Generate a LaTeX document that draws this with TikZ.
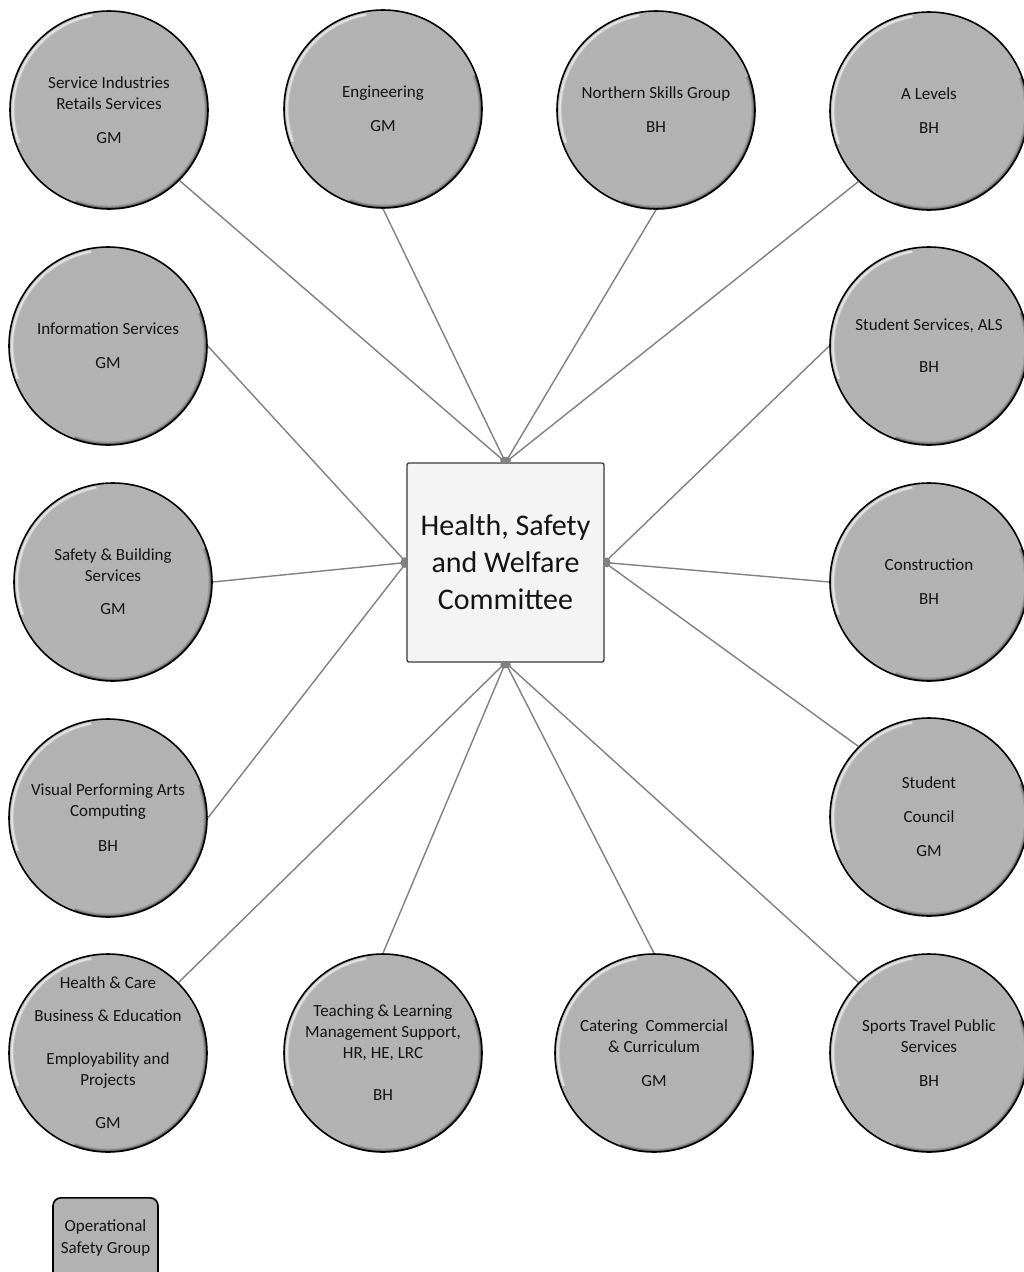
\documentclass[tikz,border=0pt]{standalone}
\usepackage{fontspec}
\setmainfont{Carlito}
\usetikzlibrary{arrows.meta}
\definecolor{unitgray}{HTML}{B2B2B2}
\definecolor{boxfill}{HTML}{F4F4F4}
\definecolor{boxline}{HTML}{3A3A3A}
\definecolor{connc}{HTML}{808080}
\definecolor{txt}{HTML}{141414}
\tikzset{
  unit/.style={circle, minimum size=198pt, inner sep=0pt, fill=unitgray, draw=black,
    line width=1.6pt,
    path picture={
      \foreach \o/\w in {.18/4pt,.3/2.5pt,.45/1.2pt}{
        \draw[white, opacity=\o, line width=\w]
          ([shift={(100:96pt)}]path picture bounding box.center) arc[start angle=100, end angle=200, radius=96pt];}
      \foreach \o/\w in {.12/7pt,.2/4.5pt,.35/2.5pt}{
        \draw[black, opacity=\o, line width=\w]
          ([shift={(-110:99pt)}]path picture bounding box.center) arc[start angle=-110, end angle=20, radius=99pt];}
    }},
  utext/.style={inner sep=0pt, align=center, text=txt, font=\fontsize{17}{21}\selectfont},
  hub/.style={rectangle, rounded corners=2pt, minimum width=197pt, minimum height=199pt,
    inner sep=0pt, fill=boxfill, draw=boxline, line width=1.3pt, align=center, text=txt,
    font=\fontsize{30}{37}\selectfont},
  legendbox/.style={rectangle, rounded corners=8pt, minimum width=105pt, minimum height=86pt,
    inner sep=0pt, fill=unitgray, draw=black, line width=1.6pt},
  conn/.style={draw=connc, line width=1.4pt, arrows={Circle[length=6pt]-}},
}
\begin{document}
\begin{tikzpicture}[x=1pt,y=1pt]
\useasboundingbox[fill=white] (0,0) rectangle (1023,-1272);

\node[hub] (hswc) at (505.5,-562.5) {Health, Safety\\and Welfare\\Committee};

% row 1
\node[unit] (sis) at (109,-110) {};
\node[utext] (sist) at (sis) {Service Industries\\Retails Services\\[13pt]GM};
\node[unit] (eng) at (383,-109) {};
\node[utext] (engt) at (eng) {Engineering\\[13pt]GM};
\node[unit] (nsg) at (656,-110) {};
\node[utext] (nsgt) at (nsg) {Northern Skills Group\\[13pt]BH};
\node[unit] (alv) at (929,-111) {};
\node[utext] (alvt) at (alv) {A Levels\\[13pt]BH};
% row 2
\node[unit] (inf) at (108,-346) {};
\node[utext] (inft) at (inf) {Information Services\\[13pt]GM};
\node[unit] (sts) at (929,-346) {};
\node[utext] (stst) at (sts) {Student Services, ALS\\[21pt]BH};
% row 3
\node[unit] (sbs) at (113,-582) {};
\node[utext] (sbst) at (sbs) {Safety \& Building\\Services\\[12pt]GM};
\node[unit] (con) at (929,-582) {};
\node[utext] (cont) at (con) {Construction\\[13pt]BH};
% row 4
\node[unit] (vpa) at (108,-818) {};
\node[utext] (vpat) at (vpa) {Visual Performing Arts\\Computing\\[14pt]BH};
\node[unit] (stc) at (929,-817) {};
\node[utext] (stct) at (stc) {Student\\[13pt]Council\\[13pt]GM};
% row 5
\node[unit] (hcb) at (108,-1053) {};
\node[utext] (hcbt) at (hcb) {Health \& Care\\[12pt]Business \& Education\\[22pt]Employability and\\Projects\\[22pt]GM};
\node[unit] (tlm) at (383,-1053) {};
\node[utext] (tlmt) at (tlm) {Teaching \& Learning\\Management Support,\\HR, HE, LRC\\[21pt]BH};
\node[unit] (cat) at (654,-1053) {};
\node[utext] (catt) at (cat) {Catering\ \ Commercial\\\& Curriculum\\[13pt]GM};
\node[unit] (stp) at (929,-1053) {};
\node[utext] (stpt) at (stp) {Sports Travel Public\\Services\\[13pt]BH};

\node[legendbox, anchor=north] (osg) at (105.5,-1197) {};
\node[utext, font=\fontsize{17}{22}\selectfont] (osgt) at (105.5,-1238) {Operational\\Safety Group};

% connectors
\draw[conn] (hswc.north) -- (sis.south east);
\draw[conn] (hswc.north) -- (eng.south);
\draw[conn] (hswc.north) -- (nsg.south);
\draw[conn] (hswc.north) -- (alv.south west);
\draw[conn] (hswc.west) -- (inf.east);
\draw[conn] (hswc.west) -- (sbs.east);
\draw[conn] (hswc.west) -- (vpa.east);
\draw[conn] (hswc.east) -- (sts.west);
\draw[conn] (hswc.east) -- (con.west);
\draw[conn] (hswc.east) -- (stc.north west);
\draw[conn] (hswc.south) -- (hcb.north east);
\draw[conn] (hswc.south) -- (tlm.north);
\draw[conn] (hswc.south) -- (cat.north);
\draw[conn] (hswc.south) -- (stp.north west);
\end{tikzpicture}
\end{document}
